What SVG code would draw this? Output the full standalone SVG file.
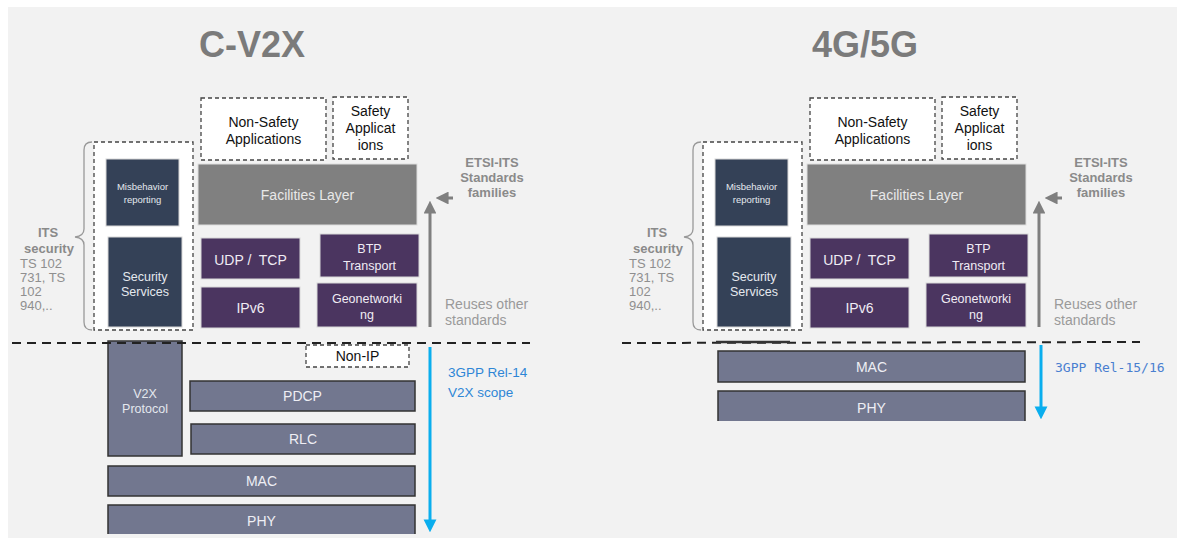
<svg xmlns="http://www.w3.org/2000/svg" width="1177" height="538" viewBox="0 0 1177 538">
  <style>
    .t { font-family: "Liberation Sans", Arial, sans-serif; }
    .title { font-size: 36px; font-weight: bold; fill: #7b7b7b; text-anchor: middle; }
    .dash { fill: #ffffff; stroke: #444444; stroke-width: 1.3; stroke-dasharray: 4 3; }
    .app { font-size: 14px; fill: #111111; text-anchor: middle; }
    .fac { fill: #808080; stroke: #dddddd; stroke-width: 1; }
    .facT { font-size: 14px; fill: #e8e8e8; text-anchor: middle; }
    .net { fill: #4b3560; stroke: #d8d8d8; stroke-width: 1; }
    .netT { font-size: 14px; fill: #f0ecf4; text-anchor: middle; }
    .netS { font-size: 12.5px; fill: #f0ecf4; text-anchor: middle; }
    .sec { fill: #344157; stroke: #d8d8d8; stroke-width: 1; }
    .secT { font-size: 12.5px; fill: #e4e8ee; text-anchor: middle; }
    .secS { font-size: 9.5px; fill: #e4e8ee; text-anchor: middle; }
    .low { fill: #72778f; stroke: #333333; stroke-width: 1.5; }
    .lowT { font-size: 14px; fill: #eeeef4; text-anchor: middle; }
    .grayT { font-size: 13px; fill: #8f8f8f; }
    .grayB { font-size: 13px; fill: #8a8a8a; font-weight: bold; text-anchor: middle; }
    .reuse { font-size: 14px; fill: #9a9a9a; }
    .blueT { font-size: 13.5px; fill: #2e86d6; }
    .mono { font-family: "DejaVu Sans Mono", monospace; font-size: 13px; fill: #4a7fd0; }
    .brace { fill: none; stroke: #999999; stroke-width: 1.3; }
    .sep { stroke: #222222; stroke-width: 2; stroke-dasharray: 9 6; }
    .up { stroke: #7f7f7f; stroke-width: 3; }
    .down { stroke: #0aaeee; stroke-width: 3; }
  </style>
  <defs>
    <marker id="grayHead" viewBox="0 0 10 10" refX="2" refY="5" markerWidth="4.3" markerHeight="4.3" orient="auto">
      <path d="M0,0 L10,5 L0,10 z" fill="#7f7f7f"/>
    </marker>
    <marker id="blueHead" viewBox="0 0 10 10" refX="2" refY="5" markerWidth="4.3" markerHeight="5" orient="auto">
      <path d="M0,0 L10,5 L0,10 z" fill="#0aaeee"/>
    </marker>
  </defs>

  <!-- canvas -->
  <rect x="0" y="0" width="1177" height="538" fill="#ffffff"/>
  <rect x="8" y="7" width="1169" height="531" fill="#f2f2f2"/>

  <!-- ===== C-V2X stack ===== -->
  <text class="t title" x="252" y="57">C-V2X</text>

  <g id="cv2x-its-security">
    <path class="brace" d="M92,142 Q84,142 84,150 L84,229 Q84,236 75,237 Q84,238 84,245 L84,322 Q84,330 92,330"/>
    <text class="t grayB" x="48" y="237">ITS</text>
    <text class="t grayB" x="49" y="253">security</text>
    <text class="t grayT" x="20" y="268">TS 102</text>
    <text class="t grayT" x="20" y="282">731, TS</text>
    <text class="t grayT" x="20" y="296">102</text>
    <text class="t grayT" x="20" y="310">940,..</text>
  </g>
  <g id="cv2x-security-group">
    <rect class="dash" x="94" y="142" width="99" height="188"/>
  </g>
  <g id="cv2x-misbehavior">
    <rect class="sec" x="106" y="159" width="73" height="67"/>
    <text class="t secS" x="142.5" y="190">Misbehavior</text>
    <text class="t secS" x="142.5" y="203">reporting</text>
  </g>
  <g id="cv2x-security-services">
    <rect class="sec" x="108" y="237" width="74" height="90"/>
    <text class="t secT" x="145" y="281">Security</text>
    <text class="t secT" x="145" y="296">Services</text>
  </g>
  <g id="cv2x-non-safety">
    <rect class="dash" x="201" y="98" width="125" height="62"/>
    <text class="t app" x="263.5" y="127">Non-Safety</text>
    <text class="t app" x="263.5" y="144">Applications</text>
  </g>
  <g id="cv2x-safety">
    <rect class="dash" x="333" y="97" width="75" height="62"/>
    <text class="t app" x="370.5" y="116">Safety</text>
    <text class="t app" x="370.5" y="133">Applicat</text>
    <text class="t app" x="370.5" y="150">ions</text>
  </g>
  <g id="cv2x-facilities">
    <rect class="fac" x="198" y="164" width="219" height="61"/>
    <text class="t facT" x="307.5" y="200">Facilities Layer</text>
  </g>
  <g id="cv2x-udp-tcp">
    <rect class="net" x="201" y="238" width="99" height="41"/>
    <text class="t netT" x="250.5" y="265" xml:space="preserve">UDP /  TCP</text>
  </g>
  <g id="cv2x-ipv6">
    <rect class="net" x="201" y="287" width="99" height="41"/>
    <text class="t netT" x="250.5" y="313">IPv6</text>
  </g>
  <g id="cv2x-btp">
    <rect class="net" x="320" y="234" width="99" height="43"/>
    <text class="t netS" x="369.5" y="253">BTP</text>
    <text class="t netS" x="369.5" y="270">Transport</text>
  </g>
  <g id="cv2x-geonetworking">
    <rect class="net" x="317" y="283" width="100" height="44"/>
    <text class="t netS" x="367" y="303">Geonetworki</text>
    <text class="t netS" x="367" y="319">ng</text>
  </g>
  <g id="cv2x-etsi-labels">
    <text class="t grayB" x="492" y="167">ETSI-ITS</text>
    <text class="t grayB" x="492" y="182">Standards</text>
    <text class="t grayB" x="492" y="197">families</text>
    <text class="t reuse" x="445" y="309">Reuses other</text>
    <text class="t reuse" x="445" y="325">standards</text>
  </g>
  <g id="cv2x-v2x-protocol">
    <rect class="low" x="108" y="341" width="74" height="115"/>
    <text class="t secT" x="145" y="398" fill="#eeeef4">V2X</text>
    <text class="t secT" x="145" y="413" fill="#eeeef4">Protocol</text>
  </g>
  <g id="cv2x-non-ip">
    <rect class="dash" x="306" y="345" width="103" height="22"/>
    <text class="t app" x="357.5" y="361" fill="#333333">Non-IP</text>
  </g>
  <g id="cv2x-pdcp">
    <rect class="low" x="190" y="381" width="225" height="30"/>
    <text class="t lowT" x="302.5" y="401">PDCP</text>
  </g>
  <g id="cv2x-rlc">
    <rect class="low" x="191" y="424" width="224" height="30"/>
    <text class="t lowT" x="303" y="444">RLC</text>
  </g>
  <g id="cv2x-mac">
    <rect class="low" x="108" y="466" width="307" height="30"/>
    <text class="t lowT" x="261.5" y="486">MAC</text>
  </g>
  <g id="cv2x-phy">
    <path class="low" d="M108,534 L108,505 L415,505 L415,534"/>
    <text class="t lowT" x="261.5" y="526">PHY</text>
  </g>
  <g id="cv2x-scope-label">
    <text class="t blueT" x="448" y="377">3GPP Rel-14</text>
    <text class="t blueT" x="448" y="397">V2X scope</text>
  </g>

  <!-- ===== 4G/5G stack ===== -->
  <text class="t title" x="865" y="57">4G/5G</text>

  <g id="lte-its-security">
    <path class="brace" d="M701,142 Q693,142 693,150 L693,229 Q693,236 684,237 Q693,238 693,245 L693,322 Q693,330 701,330"/>
    <text class="t grayB" x="657" y="237">ITS</text>
    <text class="t grayB" x="658" y="253">security</text>
    <text class="t grayT" x="629" y="268">TS 102</text>
    <text class="t grayT" x="629" y="282">731, TS</text>
    <text class="t grayT" x="629" y="296">102</text>
    <text class="t grayT" x="629" y="310">940,..</text>
  </g>
  <g id="lte-security-group">
    <rect class="dash" x="703" y="142" width="99" height="188"/>
  </g>
  <g id="lte-misbehavior">
    <rect class="sec" x="715" y="159" width="73" height="67"/>
    <text class="t secS" x="751.5" y="190">Misbehavior</text>
    <text class="t secS" x="751.5" y="203">reporting</text>
  </g>
  <g id="lte-security-services">
    <rect class="sec" x="717" y="237" width="74" height="90"/>
    <text class="t secT" x="754" y="281">Security</text>
    <text class="t secT" x="754" y="296">Services</text>
  </g>
  <g id="lte-non-safety">
    <rect class="dash" x="810" y="98" width="125" height="62"/>
    <text class="t app" x="872.5" y="127">Non-Safety</text>
    <text class="t app" x="872.5" y="144">Applications</text>
  </g>
  <g id="lte-safety">
    <rect class="dash" x="942" y="97" width="75" height="62"/>
    <text class="t app" x="979.5" y="116">Safety</text>
    <text class="t app" x="979.5" y="133">Applicat</text>
    <text class="t app" x="979.5" y="150">ions</text>
  </g>
  <g id="lte-facilities">
    <rect class="fac" x="807" y="164" width="219" height="61"/>
    <text class="t facT" x="916.5" y="200">Facilities Layer</text>
  </g>
  <g id="lte-udp-tcp">
    <rect class="net" x="810" y="238" width="99" height="41"/>
    <text class="t netT" x="859.5" y="265" xml:space="preserve">UDP /  TCP</text>
  </g>
  <g id="lte-ipv6">
    <rect class="net" x="810" y="287" width="99" height="41"/>
    <text class="t netT" x="859.5" y="313">IPv6</text>
  </g>
  <g id="lte-btp">
    <rect class="net" x="929" y="234" width="99" height="43"/>
    <text class="t netS" x="978.5" y="253">BTP</text>
    <text class="t netS" x="978.5" y="270">Transport</text>
  </g>
  <g id="lte-geonetworking">
    <rect class="net" x="926" y="283" width="100" height="44"/>
    <text class="t netS" x="976" y="303">Geonetworki</text>
    <text class="t netS" x="976" y="319">ng</text>
  </g>
  <g id="lte-etsi-labels">
    <text class="t grayB" x="1101" y="167">ETSI-ITS</text>
    <text class="t grayB" x="1101" y="182">Standards</text>
    <text class="t grayB" x="1101" y="197">families</text>
    <text class="t reuse" x="1054" y="309">Reuses other</text>
    <text class="t reuse" x="1054" y="325">standards</text>
  </g>
  <g id="lte-mac">
    <rect class="low" x="718" y="351" width="307" height="31"/>
    <text class="t lowT" x="871.5" y="372">MAC</text>
  </g>
  <g id="lte-phy">
    <path class="low" d="M718,421 L718,391 L1025,391 L1025,421"/>
    <text class="t lowT" x="871.5" y="413">PHY</text>
  </g>
  <g id="lte-scope-label">
    <text class="mono" x="1055" y="372">3GPP Rel-15/16</text>
  </g>

  <!-- connectors: layer boundaries and scope arrows -->
  <g id="connectors">
    <line class="sep" x1="12" y1="343" x2="530" y2="343"/>
    <line class="sep" x1="622" y1="343" x2="1140" y2="342"/>
    <line x1="716" y1="342" x2="790" y2="342" stroke="#333333" stroke-width="2.5"/>
    <line class="up" x1="430" y1="327" x2="430" y2="211" marker-end="url(#grayHead)"/>
    <line class="up" x1="453" y1="198" x2="446" y2="198" marker-end="url(#grayHead)"/>
    <line class="up" x1="1039" y1="327" x2="1039" y2="211" marker-end="url(#grayHead)"/>
    <line class="up" x1="1062" y1="198" x2="1055" y2="198" marker-end="url(#grayHead)"/>
    <line class="down" x1="430" y1="347" x2="430" y2="522" marker-end="url(#blueHead)"/>
    <line class="down" x1="1041" y1="345" x2="1041" y2="409" marker-end="url(#blueHead)"/>
  </g>
</svg>
